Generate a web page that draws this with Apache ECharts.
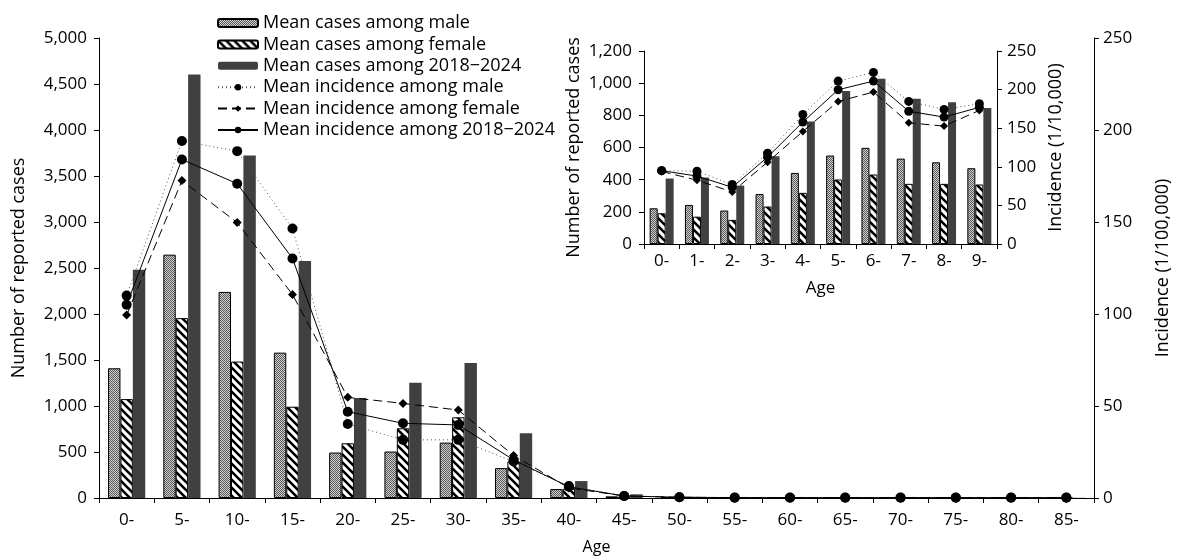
<!DOCTYPE html>
<html>
<head>
<meta charset="utf-8">
<script src="https://cdn.jsdelivr.net/npm/echarts@6/dist/echarts.min.js"></script>
<style>
  html, body { margin: 0; padding: 0; background: #fff; }
  #main { width: 1180px; height: 560px; }
</style>
</head>
<body>
<div id="main"></div>
<script>
// main chart data
const ages = ['0-', '5-', '10-', '15-', '20-', '25-', '30-', '35-', '40-', '45-', '50-', '55-', '60-', '65-', '70-', '75-', '80-', '85-'];
const maleCases = [1410, 2645, 2240, 1580, 494, 505, 602, 325, 97, 18, 8, 5, 4, 3, 3, 2, 2, 1];
const femaleCases = [1075, 1955, 1483, 992, 595, 758, 877, 397, 100, 15, 6, 4, 3, 3, 2, 2, 1, 1];
const totalCases = [2482, 4603, 3723, 2576, 1086, 1252, 1468, 703, 184, 40, 12, 8, 6, 5, 4, 3, 2, 2];
const maleInc = [110, 194, 188.5, 146.5, 40.2, 31.6, 31.6, 19.8, 6.5, 1.1, 0.4, 0.3, 0.3, 0.3, 0.3, 0.3, 0.3, 0.3];
const femaleInc = [99.4, 172.5, 149.7, 110.6, 54.7, 51.4, 47.8, 23.1, 5.5, 1.1, 0.4, 0.2, 0.2, 0.2, 0.2, 0.2, 0.2, 0.2];
const totalInc = [105, 184, 170.8, 130.2, 46.9, 40.6, 39.7, 20.7, 6.1, 1.1, 0.4, 0.2, 0.2, 0.2, 0.2, 0.2, 0.2, 0.2];

// inset (children 0-9)
const childAges = ['0-', '1-', '2-', '3-', '4-', '5-', '6-', '7-', '8-', '9-'];
const childMale = [222, 243, 208, 311, 442, 550, 598, 531, 508, 471];
const childFemale = [191, 170, 150, 233, 318, 401, 432, 374, 374, 370];
const childTotal = [407, 413, 363, 546, 762, 951, 1028, 903, 882, 845];
const childMaleInc = [95, 94.3, 77, 117.6, 167.8, 211, 222.3, 184.7, 174.3, 181.7];
const childFemaleInc = [94, 82.6, 67.5, 106, 145.8, 184.7, 196.8, 157, 152.7, 173];
const childTotalInc = [95, 88, 73.5, 112.5, 158, 199.8, 211, 172, 164.4, 177];

const FONT = '"Open Sans", sans-serif';

// fill patterns
function dotPattern() {
  const c = document.createElement('canvas');
  c.width = 2; c.height = 2;
  const g = c.getContext('2d');
  g.fillStyle = '#cfcfcf';
  g.fillRect(0, 0, 2, 2);
  g.fillStyle = '#5a5a5a';
  g.fillRect(0, 0, 1, 1);
  g.fillRect(1, 1, 1, 1);
  return { image: c, repeat: 'repeat' };
}
function stripePattern() {
  const c = document.createElement('canvas');
  c.width = 8; c.height = 8;
  const g = c.getContext('2d');
  g.fillStyle = '#fff';
  g.fillRect(0, 0, 8, 8);
  g.strokeStyle = '#000';
  g.lineWidth = 2.6;
  g.beginPath();
  g.moveTo(-2, -2); g.lineTo(10, 10);
  g.moveTo(-6, 2); g.lineTo(2, 10);
  g.moveTo(6, -2); g.lineTo(10, 2);
  g.stroke();
  return { image: c, repeat: 'repeat' };
}
const maleFill = dotPattern();
const femaleFill = stripePattern();

const axisLine = { show: true, lineStyle: { color: '#000', width: 1 } };
const axisTick = { show: true, length: 5, lineStyle: { color: '#000' } };
const fmt = v => v.toLocaleString('en-US');

function barSeries(name, data, fill, xi, yi, w) {
  return {
    name: name, type: 'bar', xAxisIndex: xi, yAxisIndex: yi,
    data: data, barWidth: w, barGap: '0%',
    itemStyle: fill === 'solid'
      ? { color: '#404040' }
      : { color: fill, borderColor: '#000', borderWidth: 1 }
  };
}
function lineSeries(name, data, kind, xi, yi, size) {
  return {
    name: name, type: 'line', xAxisIndex: xi, yAxisIndex: yi, data: data,
    symbol: kind === 'female' ? 'diamond' : 'circle',
    symbolSize: kind === 'female' ? size - 1 : size,
    itemStyle: { color: '#000' },
    lineStyle: {
      color: kind === 'male' ? '#555' : '#000',
      width: 1,
      type: kind === 'male' ? [1, 3] : kind === 'female' ? [9, 5] : 'solid'
    },
    z: 5
  };
}

const myChart = echarts.init(document.getElementById('main'));
myChart.setOption({
  animation: false,
  textStyle: { fontFamily: FONT, color: '#000' },
  legend: {
    orient: 'vertical', left: 212, top: 9,
    itemWidth: 40, itemHeight: 8, itemGap: 3.4,
    textStyle: { fontSize: 18, color: '#000', fontFamily: FONT },
    data: ['Mean cases among male', 'Mean cases among female', 'Mean cases among 2018\u22122024',
      'Mean incidence among male', 'Mean incidence among female', 'Mean incidence among 2018\u22122024']
  },
  grid: [
    { left: 99, right: 79, top: 38, bottom: 60 },
    { left: 644, right: 183, top: 51, bottom: 316 }
  ],
  xAxis: [
    {
      type: 'category', gridIndex: 0, data: ages,
      axisLine: axisLine, axisTick: axisTick,
      axisLabel: { fontSize: 17, color: '#000', margin: 14, interval: 0 },
      name: 'Age', nameLocation: 'middle', nameGap: 41,
      nameTextStyle: { fontSize: 16, color: '#000' }
    },
    {
      type: 'category', gridIndex: 1, data: childAges,
      axisLine: axisLine, axisTick: axisTick,
      axisLabel: { fontSize: 17, color: '#000', margin: 9, interval: 0 },
      name: 'Age', nameLocation: 'middle', nameGap: 36,
      nameTextStyle: { fontSize: 17, color: '#000' }
    }
  ],
  yAxis: [
    {
      type: 'value', gridIndex: 0, min: 0, max: 5000, interval: 500,
      axisLine: axisLine, axisTick: axisTick, splitLine: { show: false },
      axisLabel: { fontSize: 17, color: '#000', margin: 12, formatter: fmt },
      name: 'Number of reported cases', nameLocation: 'middle', nameGap: 71,
      nameTextStyle: { fontSize: 18, color: '#000' }
    },
    {
      type: 'value', gridIndex: 0, position: 'right', min: 0, max: 250, interval: 50,
      axisLine: axisLine, axisTick: axisTick, splitLine: { show: false },
      axisLabel: { fontSize: 17, color: '#000', margin: 9 },
      name: 'Incidence (1/100,000)', nameLocation: 'middle', nameGap: 60,
      nameTextStyle: { fontSize: 18, color: '#000' }
    },
    {
      type: 'value', gridIndex: 1, min: 0, max: 1200, interval: 200,
      axisLine: axisLine, axisTick: axisTick, splitLine: { show: false },
      axisLabel: { fontSize: 17, color: '#000', margin: 12, formatter: fmt },
      name: 'Number of reported cases', nameLocation: 'middle', nameGap: 61,
      nameTextStyle: { fontSize: 18, color: '#000' }
    },
    {
      type: 'value', gridIndex: 1, position: 'right', min: 0, max: 250, interval: 50,
      axisLine: axisLine, axisTick: axisTick, splitLine: { show: false },
      axisLabel: { fontSize: 17, color: '#000', margin: 10 },
      name: 'Incidence (1/10,000)', nameLocation: 'middle', nameGap: 50,
      nameTextStyle: { fontSize: 18, color: '#000' }
    }
  ],
  series: [
    barSeries('Mean cases among male', maleCases, maleFill, 0, 0, 12.4),
    barSeries('Mean cases among female', femaleCases, femaleFill, 0, 0, 12.4),
    barSeries('Mean cases among 2018\u22122024', totalCases, 'solid', 0, 0, 12.4),
    lineSeries('Mean incidence among male', maleInc, 'male', 0, 1, 10),
    lineSeries('Mean incidence among female', femaleInc, 'female', 0, 1, 10),
    lineSeries('Mean incidence among 2018\u22122024', totalInc, 'total', 0, 1, 10),
    barSeries('male 0-9', childMale, maleFill, 1, 2, 8),
    barSeries('female 0-9', childFemale, femaleFill, 1, 2, 8),
    barSeries('total 0-9', childTotal, 'solid', 1, 2, 8),
    lineSeries('inc male 0-9', childMaleInc, 'male', 1, 3, 9),
    lineSeries('inc female 0-9', childFemaleInc, 'female', 1, 3, 9),
    lineSeries('inc total 0-9', childTotalInc, 'total', 1, 3, 9)
  ]
});
</script>
</body>
</html>
